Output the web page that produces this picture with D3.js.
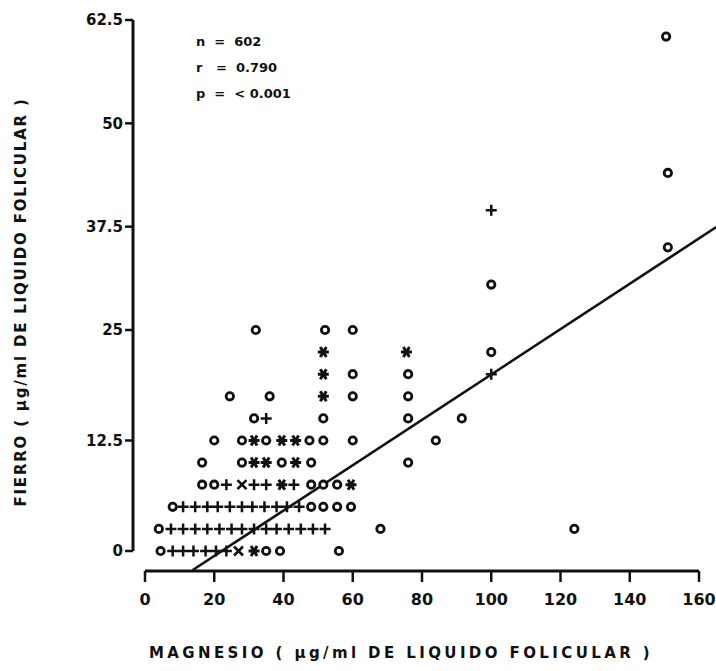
<!DOCTYPE html>
<html>
<head>
<meta charset="utf-8">
<script src="https://cdn.jsdelivr.net/npm/d3@7"></script>
<style>
    body { margin: 0; background: #fff; }
    text { font-family: "DejaVu Sans", sans-serif; font-weight: bold; fill: #111; }
</style>
</head>
<body>
<div id="chart"></div>
<script>
// magnesio (x) vs fierro (y), one array per plotting symbol
var circlePts = [
    [4.5, 0], [35, 0], [39, 0], [56, 0],
    [4, 2.5], [68, 2.5], [124, 2.5],
    [8, 5], [48, 5], [51.5, 5], [55.5, 5], [59.5, 5],
    [16.5, 7.5], [20, 7.5], [48, 7.5], [51.5, 7.5], [55.5, 7.5],
    [16.5, 10], [28, 10], [39.5, 10], [48, 10], [76, 10],
    [20, 12.5], [28, 12.5], [35, 12.5], [47.5, 12.5], [51.5, 12.5], [60, 12.5], [84, 12.5],
    [31.5, 15], [51.5, 15], [76, 15], [91.5, 15],
    [24.5, 17.5], [36, 17.5], [60, 17.5], [76, 17.5],
    [60, 20], [76, 20],
    [100, 22.5],
    [32, 25], [52, 25], [60, 25],
    [100, 30.5], [151, 35], [151, 44], [150.5, 60.5]
];
var plusPts = [
    [8, 0], [11, 0], [14, 0], [17.5, 0], [20.5, 0], [23.5, 0],
    [7.5, 2.5], [11, 2.5], [14.5, 2.5], [18, 2.5], [21.5, 2.5], [25, 2.5], [28, 2.5],
    [31.5, 2.5], [35, 2.5], [38, 2.5], [41.5, 2.5], [45, 2.5], [48.5, 2.5], [52, 2.5],
    [11, 5], [14.5, 5], [18, 5], [21, 5], [24.5, 5], [28, 5], [31, 5], [34.5, 5],
    [38, 5], [41, 5], [44.5, 5],
    [23.5, 7.5], [31.5, 7.5], [35, 7.5], [43, 7.5],
    [35, 15],
    [100, 20],
    [100, 39.5]
];
var crossPts = [[27, 0], [28, 7.5]];
var starPts = [
    [31.5, 0],
    [39.5, 7.5], [59.5, 7.5],
    [31.5, 10], [35, 10], [43.5, 10],
    [31.5, 12.5], [39.5, 12.5], [43.5, 12.5],
    [51.5, 17.5], [51.5, 20], [51.5, 22.5], [75.5, 22.5]
];

// regression line end points
var lineMg = [13.8, 165];
var lineFe = [-2.15, 37.45];

var xTicks = [0, 20, 40, 60, 80, 100, 120, 140, 160];
var yTicks = [0, 12.5, 25, 37.5, 50, 62.5];
var stats = ["n  =  602", "r   =  0.790", "p  =  < 0.001"];

var svg = d3.select("#chart").append("svg")
    .attr("width", 716)
    .attr("height", 671);

var x = d3.scaleLinear().domain([0, 160]).range([145, 699]);
// the printed axis is a little squeezed above 25
var y = d3.scaleLinear().domain([0, 25, 62.5]).range([551, 330, 20]);

var axisX = 133;
var axisY = 571;

// y axis
svg.append("line")
    .attr("x1", axisX).attr("x2", axisX)
    .attr("y1", y(0)).attr("y2", y(62.5))
    .style("stroke", "#111").style("stroke-width", 3);

svg.selectAll(".ytick")
    .data(yTicks)
    .enter().append("line")
    .attr("class", "ytick")
    .attr("x1", axisX - 8).attr("x2", axisX)
    .attr("y1", function(d) { return y(d); })
    .attr("y2", function(d) { return y(d); })
    .style("stroke", "#111").style("stroke-width", 2.5);

svg.selectAll(".ylab")
    .data(yTicks)
    .enter().append("text")
    .attr("class", "ylab")
    .attr("x", axisX - 10)
    .attr("y", function(d) { return y(d); })
    .attr("dy", "0.36em")
    .attr("text-anchor", "end")
    .attr("font-size", 15)
    .text(function(d) { return d; });

// x axis
svg.append("line")
    .attr("x1", x(0)).attr("x2", x(160))
    .attr("y1", axisY).attr("y2", axisY)
    .style("stroke", "#111").style("stroke-width", 3);

svg.selectAll(".xtick")
    .data(xTicks)
    .enter().append("line")
    .attr("class", "xtick")
    .attr("x1", function(d) { return x(d); })
    .attr("x2", function(d) { return x(d); })
    .attr("y1", axisY).attr("y2", axisY + 11)
    .style("stroke", "#111").style("stroke-width", 2.5);

svg.selectAll(".xlab")
    .data(xTicks)
    .enter().append("text")
    .attr("class", "xlab")
    .attr("x", function(d) { return x(d); })
    .attr("y", axisY + 34)
    .attr("text-anchor", "middle")
    .attr("font-size", 16)
    .text(function(d) { return d; });

// axis titles
svg.append("text")
    .attr("transform", "translate(26,302) rotate(-90)")
    .attr("text-anchor", "middle")
    .attr("font-size", 15)
    .attr("letter-spacing", 1.8)
    .text("FIERRO ( µg/ml  DE LIQUIDO  FOLICULAR )");

svg.append("text")
    .attr("x", 401)
    .attr("y", 658)
    .attr("text-anchor", "middle")
    .attr("font-size", 15)
    .attr("letter-spacing", 3.4)
    .text("MAGNESIO ( µg/ml  DE LIQUIDO  FOLICULAR )");

// stats
svg.selectAll(".stat")
    .data(stats)
    .enter().append("text")
    .attr("class", "stat")
    .attr("x", 196)
    .attr("y", function(d, i) { return 46 + i * 26; })
    .attr("font-size", 13)
    .attr("xml:space", "preserve")
    .style("white-space", "pre")
    .text(function(d) { return d; });

// regression line
svg.append("line")
    .attr("x1", x(lineMg[0])).attr("x2", x(lineMg[1]))
    .attr("y1", y(lineFe[0])).attr("y2", y(lineFe[1]))
    .style("stroke", "#111").style("stroke-width", 2.6);

// symbols
var marks = svg.append("g").attr("class", "marks");

marks.selectAll(".o")
    .data(circlePts)
    .enter().append("circle")
    .attr("class", "o")
    .attr("cx", function(d) { return x(d[0]); })
    .attr("cy", function(d) { return y(d[1]); })
    .attr("r", 3.7)
    .style("fill", "#fff")
    .style("stroke", "#111")
    .style("stroke-width", 2.8);

var plusPath = "M-5.5,0H5.5M0,-5.5V5.5";
var crossPath = "M-4.5,-4.5L4.5,4.5M-4.5,4.5L4.5,-4.5";
var starPath = "M-5.5,0H5.5M-3,-5L3,5M-3,5L3,-5";

function drawSymbols(cls, data, path, width)
{
    marks.selectAll("." + cls)
        .data(data)
        .enter().append("path")
        .attr("class", cls)
        .attr("transform", function(d) { return "translate(" + x(d[0]) + "," + y(d[1]) + ")"; })
        .attr("d", path)
        .style("fill", "none")
        .style("stroke", "#111")
        .style("stroke-width", width);
}

drawSymbols("plus", plusPts, plusPath, 2.5);
drawSymbols("cross", crossPts, crossPath, 2.6);
drawSymbols("star", starPts, starPath, 3);
</script>
</body>
</html>
